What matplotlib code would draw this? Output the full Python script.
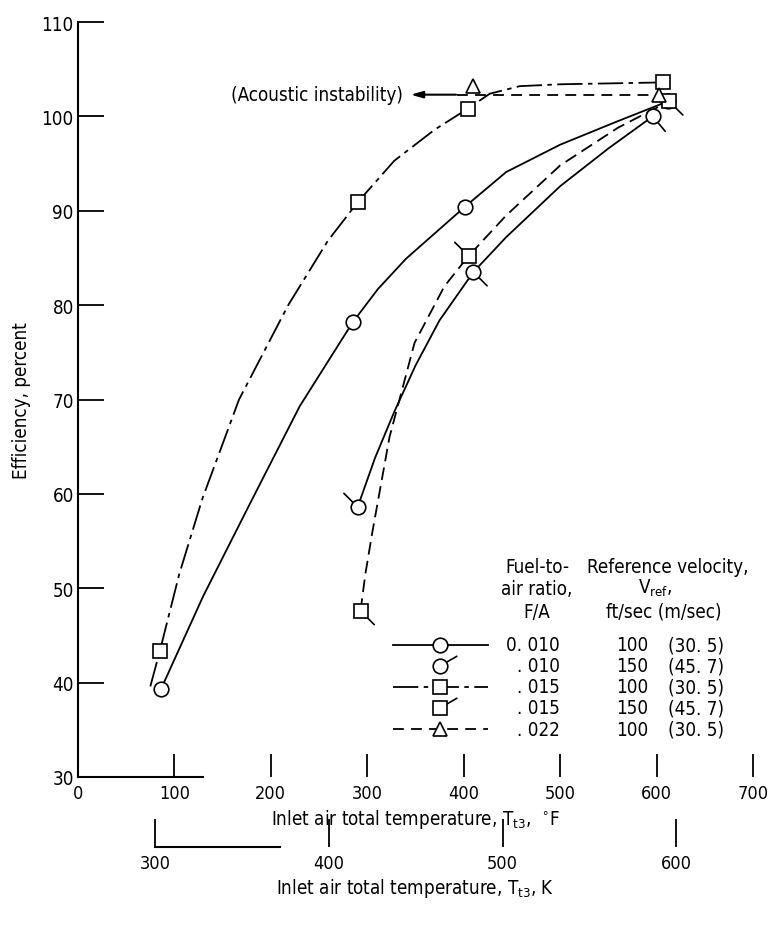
import matplotlib
matplotlib.use('Agg')
import matplotlib.pyplot as plt
from matplotlib import font_manager
from matplotlib.lines import Line2D
import numpy as np

# narrow sans to mimic the condensed lettering of the original
cond = [f for f in font_manager.fontManager.ttflist
        if f.name == 'DejaVu Sans' and 'Condensed' in f.fname
        and 'Bold' not in f.fname and 'Oblique' not in f.fname]
if cond:
    family = 'DejaVu Sans'
    plt.rcParams['font.stretch'] = 'condensed'
    math_rm = 'DejaVu Sans:stretch=condensed'
else:
    family = 'Liberation Sans'
    math_rm = 'Liberation Sans'
plt.rcParams['font.family'] = [family, 'DejaVu Sans']
plt.rcParams['mathtext.fontset'] = 'custom'
plt.rcParams['mathtext.rm'] = math_rm
plt.rcParams['mathtext.it'] = math_rm

# data points: inlet temperature (F), efficiency (percent)
a_temp = [86, 285, 401, 612]          # F/A 0.010, 100 ft/sec
a_eff = [39.3, 78.2, 90.4, 101.6]
b_temp = [290, 410, 596]              # F/A 0.010, 150 ft/sec
b_eff = [58.6, 83.5, 100.0]
c_temp = [85, 290, 404, 607]          # F/A 0.015, 100 ft/sec
c_eff = [43.4, 90.9, 100.8, 103.6]
d_temp = [293, 405, 613]              # F/A 0.015, 150 ft/sec
d_eff = [47.6, 85.2, 101.6]
e_temp = [410, 603]                   # F/A 0.022, 100 ft/sec
e_eff = [103.2, 102.3]

# faired curves
a_curve_t = [86, 130, 180, 230, 285, 311, 340, 401, 444, 500, 560, 612]
a_curve_e = [39.3, 49.2, 59.3, 69.3, 78.2, 81.7, 84.9, 90.4, 94.1, 97.0, 99.5, 101.6]
b_curve_t = [290, 308, 328, 350, 375, 410, 444, 500, 550, 596]
b_curve_e = [58.6, 63.8, 68.7, 73.6, 78.4, 83.5, 87.2, 92.6, 96.6, 100.0]
c_curve_t = [75, 85, 105, 129, 167, 218, 259, 290, 328, 370, 404, 427, 458, 500, 607]
c_curve_e = [39.6, 43.4, 51.5, 59.5, 70.0, 80.0, 86.8, 90.9, 95.3, 98.6, 100.8, 102.4, 103.2, 103.4, 103.6]
d_curve_t = [293, 298, 305, 311, 323, 349, 380, 405, 444, 500, 560, 613]
d_curve_e = [47.6, 51.5, 55.8, 59.2, 66.0, 76.0, 82.0, 85.2, 89.5, 94.8, 98.8, 101.6]
e_curve_t = [393, 603]
e_curve_e = [102.3, 102.3]

# tick direction for the flagged symbols (degrees)
b_flag = [135, -45, -50]
d_flag = [-45, 135, -45]

fa_labels = ['0. 010', '. 010', '. 015', '. 015', '. 022']
vel_ft = ['100', '150', '100', '150', '100']
vel_m = ['(30. 5)', '(45. 7)', '(30. 5)', '(45. 7)', '(30. 5)']

x_ticks_f = [0, 100, 200, 300, 400, 500, 600, 700]
y_ticks = [30, 40, 50, 60, 70, 80, 90, 100, 110]
x_ticks_k = [300, 400, 500, 600]

W, H = 771, 929
FS = 13.5
LW = 1.3
dash_c = (0, (14, 3, 2.5, 3))
dash_d = (0, (7, 3.5))
dash_e = (0, (6, 4))


def f_to_k(f):
    return (np.asarray(f) - 32.0) * 5.0 / 9.0 + 273.15


def k_to_f(k):
    return (np.asarray(k) - 273.15) * 9.0 / 5.0 + 32.0


def fxy(px, py):
    return px / W, 1 - py / H


fig = plt.figure(figsize=(W / 100, H / 100), dpi=100)
ax = fig.add_axes([78 / W, 1 - 778 / H, (753 - 78) / W, (778 - 23) / H])
ax.set_xlim(0, 700)
ax.set_ylim(30, 110)

for s in ['top', 'right']:
    ax.spines[s].set_visible(False)
ax.spines['left'].set_linewidth(1.5)
ax.spines['bottom'].set_linewidth(1.5)
ax.spines['bottom'].set_bounds(0, 130)

ax.set_xticks(x_ticks_f)
ax.set_yticks(y_ticks)
ax.tick_params(axis='x', direction='in', length=16.5, width=1.3, pad=5, labelsize=13)
ax.tick_params(axis='y', direction='in', length=19, width=1.3, pad=3, labelsize=FS)

# curves
ax.plot(a_curve_t, a_curve_e, '-', color='k', lw=LW)
ax.plot(b_curve_t, b_curve_e, '-', color='k', lw=LW)
ax.plot(c_curve_t, c_curve_e, color='k', lw=LW, ls=dash_c)
ax.plot(d_curve_t, d_curve_e, color='k', lw=LW, ls=dash_d)
ax.plot(e_curve_t, e_curve_e, color='k', lw=LW, ls=dash_e)

mk = dict(ls='none', mfc='white', mec='k', mew=1.2, zorder=4, clip_on=False)
ax.plot(a_temp, a_eff, marker='o', ms=10.5, **mk)
ax.plot(b_temp, b_eff, marker='o', ms=10.5, **mk)
ax.plot(c_temp, c_eff, marker='s', ms=9.5, **mk)
ax.plot(d_temp, d_eff, marker='s', ms=9.5, **mk)
ax.plot(e_temp, e_eff, marker='^', ms=10, **mk)


def flags(temps, effs, angles, coords='data'):
    for t, e, ang in zip(temps, effs, angles):
        r = np.deg2rad(ang)
        ax.annotate('', xy=(t, e), xycoords=coords,
                    xytext=(14 * np.cos(r), 14 * np.sin(r)), textcoords='offset points',
                    arrowprops=dict(arrowstyle='-', lw=1.2, color='k', shrinkA=0, shrinkB=5),
                    zorder=3)


flags(b_temp, b_eff, b_flag)
flags(d_temp, d_eff, d_flag)

# acoustic instability note
ax.annotate('', xy=(345, 102.3), xytext=(392, 102.3),
            arrowprops=dict(arrowstyle='-|>,head_length=0.7,head_width=0.2',
                            lw=1.5, color='k', shrinkA=0, shrinkB=0))
ax.text(337, 102.3, '(Acoustic instability)', ha='right', va='center', fontsize=FS)

# labels
ax.set_ylabel('Efficiency, percent', fontsize=FS)
ax.yaxis.set_label_coords(-0.07, 0.5)
ax.set_xlabel('Inlet air total temperature, T$_{\\mathrm{t3}}$,  $^{\\circ}$F', fontsize=FS, labelpad=4)

# kelvin scale
secax = ax.secondary_xaxis(-(848 - 778) / (778 - 23), functions=(f_to_k, k_to_f))
secax.set_xticks(x_ticks_k)
secax.tick_params(axis='x', direction='in', length=20, width=1.3, pad=5, labelsize=13)
secax.spines['bottom'].set_linewidth(1.5)
secax.spines['bottom'].set_bounds(300, 372)
secax.set_xlabel('Inlet air total temperature, T$_{\\mathrm{t3}}$, K', fontsize=FS, labelpad=3)

# legend table
row_y = [646, 667, 688, 709, 730]
for txt, py in zip(['Fuel-to-', 'air ratio,', 'F/A'], [568, 590, 612]):
    fig.text(*fxy(537, py), txt, ha='center', va='center', fontsize=FS)
for txt, px, py in zip(['Reference velocity,', 'V$_{\\mathrm{ref}}$,', 'ft/sec (m/sec)'],
                       [668, 655, 664], [568, 588, 612]):
    fig.text(*fxy(px, py), txt, ha='center', va='center', fontsize=FS)

styles = [('-', 'o', None), (None, 'o', 30), (dash_c, 's', None), (None, 's', 30), (dash_e, '^', None)]
for (ls, m, flag), py, fa, vf, vm in zip(styles, row_y, fa_labels, vel_ft, vel_m):
    x0, y0 = fxy(393, py)
    x1, _ = fxy(488, py)
    xc, _ = fxy(440, py)
    if ls is not None:
        fig.add_artist(Line2D([x0, x1], [y0, y0], transform=fig.transFigure, color='k', lw=LW, ls=ls))
    fig.add_artist(Line2D([xc], [y0], transform=fig.transFigure, marker=m,
                          ms=10.5 if m == 'o' else (9.5 if m == 's' else 10),
                          mfc='white', mec='k', mew=1.2, ls='none'))
    if flag is not None:
        flags([xc], [y0], [flag], coords='figure fraction')
    fig.text(*fxy(560, py), fa, ha='right', va='center', fontsize=FS)
    fig.text(*fxy(648, py), vf, ha='right', va='center', fontsize=FS)
    fig.text(*fxy(668, py), vm, ha='left', va='center', fontsize=FS)

fig.savefig('out.png', dpi=100)
